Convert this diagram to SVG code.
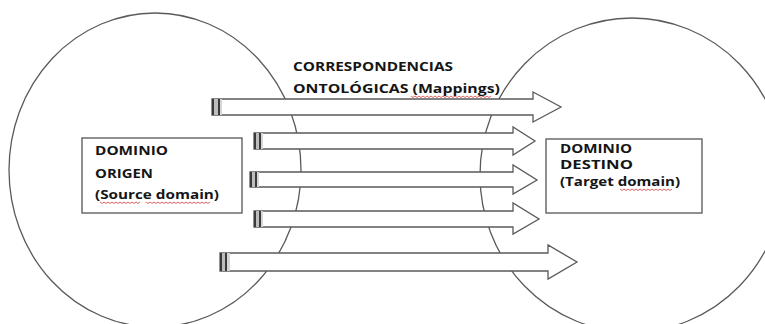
<svg xmlns="http://www.w3.org/2000/svg" width="765" height="324" viewBox="0 0 765 324">
<defs>
<style>
.ell{fill:none;stroke:#5a5a5a;stroke-width:1.3}
.box{fill:#fff;stroke:#555;stroke-width:1.3}
.arr{fill:#fff;stroke:#5a5a5a;stroke-width:1.3;stroke-linejoin:miter}
.t{font-family:"Open Sans","Liberation Sans",sans-serif;font-weight:bold;font-size:11.5px;fill:#151515}
.sq{fill:none;stroke:#d23c3c;stroke-width:0.8}
</style>
<linearGradient id="stripe" x1="0" y1="0" x2="1" y2="0">
<stop offset="0" stop-color="#3a3a3a"/><stop offset="0.2" stop-color="#3a3a3a"/>
<stop offset="0.2" stop-color="#bdbdbd"/><stop offset="0.55" stop-color="#bdbdbd"/>
<stop offset="0.55" stop-color="#3a3a3a"/><stop offset="0.75" stop-color="#3a3a3a"/>
<stop offset="0.75" stop-color="#d6d6d6"/><stop offset="1" stop-color="#d6d6d6"/>
</linearGradient>
</defs>
<rect width="765" height="324" fill="#fff"/>

<g id="source-ellipse"><ellipse class="ell" cx="155" cy="170" rx="146" ry="157"/></g>
<g id="target-ellipse"><ellipse class="ell" cx="632" cy="175" rx="152" ry="157"/></g>

<g id="connectors">
<polygon class="arr" points="212,99 533,99 533,92 561,107 533,122 533,115 212,115"/>
<rect x="212" y="99" width="10" height="16" fill="url(#stripe)"/>
<polygon class="arr" points="254,133 513,133 513,127 535,141 513,155 513,149 254,149"/>
<rect x="254" y="133" width="9" height="16" fill="url(#stripe)"/>
<polygon class="arr" points="250,172 513,172 513,165 537,180 513,194 513,187 250,187"/>
<rect x="250" y="172" width="9" height="15" fill="url(#stripe)"/>
<polygon class="arr" points="254,211 513,211 513,203 539,219 513,234 513,227 254,227"/>
<rect x="254" y="211" width="9" height="16" fill="url(#stripe)"/>
<polygon class="arr" points="220,253 548,253 548,245 577,262 548,279 548,271 220,271"/>
<rect x="220" y="253" width="10" height="18" fill="url(#stripe)"/>
</g>

<g id="title">
<text class="t" x="293" y="71" textLength="160" lengthAdjust="spacingAndGlyphs">CORRESPONDENCIAS</text>
<text class="t" x="293" y="93" textLength="207" lengthAdjust="spacingAndGlyphs">ONTOLÓGICAS (Mappings)</text>
<path class="sq" d="M411,96 l2,1.5 l2,-1.5 l2,1.5 l2,-1.5 l2,1.5 l2,-1.5 l2,1.5 l2,-1.5 l2,1.5 l2,-1.5 l2,1.5 l2,-1.5 l2,1.5 l2,-1.5 l2,1.5 l2,-1.5 l2,1.5 l2,-1.5 l2,1.5 l2,-1.5 l2,1.5 l2,-1.5 l2,1.5 l2,-1.5 l2,1.5 l2,-1.5 l2,1.5 l2,-1.5 l2,1.5 l2,-1.5 l2,1.5 l2,-1.5 l2,1.5 l2,-1.5 l2,1.5 l2,-1.5 l2,1.5 l2,-1.5 l2,1.5 l2,-1.5"/>
</g>

<g id="source-domain">
<rect class="box" x="82" y="138" width="160" height="75"/>
<text class="t" x="95" y="155" textLength="73" lengthAdjust="spacingAndGlyphs">DOMINIO</text>
<text class="t" x="95" y="178" textLength="58" lengthAdjust="spacingAndGlyphs">ORIGEN</text>
<text class="t" x="95" y="199" textLength="124" lengthAdjust="spacingAndGlyphs">(Source domain)</text>
<path class="sq" d="M100,202 l2,1.5 l2,-1.5 l2,1.5 l2,-1.5 l2,1.5 l2,-1.5 l2,1.5 l2,-1.5 l2,1.5 l2,-1.5 l2,1.5 l2,-1.5 l2,1.5 l2,-1.5 l2,1.5 l2,-1.5 l2,1.5 l2,-1.5 l2,1.5 l2,-1.5"/>
<path class="sq" d="M146,202 l2,1.5 l2,-1.5 l2,1.5 l2,-1.5 l2,1.5 l2,-1.5 l2,1.5 l2,-1.5 l2,1.5 l2,-1.5 l2,1.5 l2,-1.5 l2,1.5 l2,-1.5 l2,1.5 l2,-1.5 l2,1.5 l2,-1.5 l2,1.5 l2,-1.5 l2,1.5 l2,-1.5 l2,1.5 l2,-1.5 l2,1.5 l2,-1.5 l2,1.5 l2,-1.5 l2,1.5 l2,-1.5 l2,1.5 l2,-1.5"/>
</g>

<g id="target-domain">
<rect class="box" x="546" y="139" width="156" height="74"/>
<text class="t" x="560" y="153" textLength="72" lengthAdjust="spacingAndGlyphs">DOMINIO</text>
<text class="t" x="560" y="169" textLength="73" lengthAdjust="spacingAndGlyphs">DESTINO</text>
<text class="t" x="560" y="186" textLength="120" lengthAdjust="spacingAndGlyphs">(Target domain)</text>
<path class="sq" d="M620,189 l2,1.5 l2,-1.5 l2,1.5 l2,-1.5 l2,1.5 l2,-1.5 l2,1.5 l2,-1.5 l2,1.5 l2,-1.5 l2,1.5 l2,-1.5 l2,1.5 l2,-1.5 l2,1.5 l2,-1.5 l2,1.5 l2,-1.5 l2,1.5 l2,-1.5 l2,1.5 l2,-1.5 l2,1.5 l2,-1.5 l2,1.5 l2,-1.5"/>
</g>
</svg>
